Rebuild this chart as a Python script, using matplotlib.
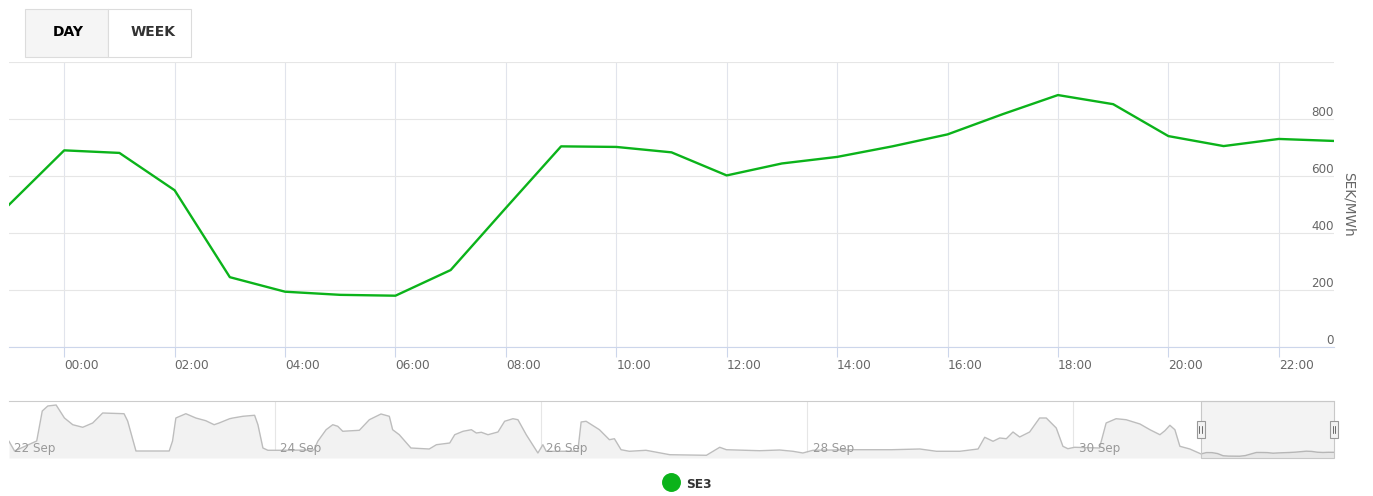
import matplotlib
matplotlib.use("Agg")
from matplotlib import pyplot as plt
from matplotlib.patches import Rectangle
from matplotlib.lines import Line2D
from matplotlib.transforms import offset_copy

plt.rcParams['font.family'] = ['DejaVu Sans']

# SE3 day-ahead price, 30 Sep 23:00 .. 1 Oct 23:00 (hour offset from midnight)
hours = list(range(-1, 24))
prices = [499, 690, 681, 550, 245, 194, 183, 180, 270, 488, 704, 702, 683,
          602, 644, 667, 704, 746, 817, 884, 852, 740, 705, 730, 723]

# navigator history, hours since 22 Sep 00:00 (the last day is appended below)
nav_hours = [0, 1, 5, 6, 7, 8.5, 10, 11.5, 13.3, 15.1, 16.9, 20.75, 21.4, 22.9,
             28.9, 29.5, 30.1, 31.9, 33.7, 35.5, 37.0, 37.9, 39.8, 40.4, 42.2,
             44.3, 44.9, 45.8, 46.7, 48.8, 55.0, 55.7, 57.2, 58.4, 59.3, 60.2,
             63.2, 65.0, 67.1, 68.6, 69.2, 70.4, 72.5, 75.8, 77.1, 79.5, 80.4,
             81.9, 83.4, 84.3, 85.2, 86.4, 88.2, 89.4, 90.9, 91.8, 93.3, 95.4,
             96.3, 96.9, 102.6, 103.2, 104.1, 106.5, 108.3, 109.2, 110.4,
             111.9, 114.9, 119.2, 125.8, 128.2, 129.4, 135.4, 139.0, 141.4,
             143.2, 145.0, 152.2, 159.2, 164.3, 167.3, 171.5, 174.8, 176.0,
             177.5, 178.7, 179.9, 181.1, 182.3, 184.1, 185.9, 187.1, 188.9,
             190.1, 191.0, 192.2, 196.7, 197.9, 199.7, 201.5, 204.0, 205.8,
             207.6, 208.5, 209.4, 210.3, 211.2, 213.0]
nav_prices = [2270, 910, 2310, 6510, 7210, 7350, 5530, 4590, 4230, 4830, 6230,
              6130, 5110, 910, 910, 2310, 5530, 6130, 5530, 5150, 4590, 4830,
              5430, 5530, 5770, 5910, 4590, 1330, 1010, 1010, 1050, 2270, 3890,
              4590, 4370, 3670, 3810, 5290, 6090, 5770, 3890, 3190, 1330, 1190,
              1790, 2030, 3190, 3670, 3890, 3430, 3530, 3190, 3570, 5070, 5430,
              5290, 3190, 630, 1790, 870, 870, 4970, 5070, 3890, 2490, 2630,
              1090, 870, 1010, 390, 310, 1430, 1090, 950, 1050, 870, 630, 1010,
              1090, 1090, 1190, 870, 870, 1190, 2830, 2270, 2730, 2630, 3570,
              2870, 3570, 5530, 5530, 4130, 1570, 1230, 1430, 1330, 4830, 5430,
              5290, 4690, 3890, 3190, 3750, 4510, 3890, 1570, 1190]
nav_day_labels = ['22 Sep', '24 Sep', '26 Sep', '28 Sep', '30 Sep']
day_start = 216

GREEN = '#0bb31a'
W, H = 1373, 496


def box(l, t, r, b):
    return [l / W, 1 - b / H, (r - l) / W, (b - t) / H]


fig = plt.figure(figsize=(W / 100, H / 100), dpi=100)

# ---- main chart ----
ax = fig.add_axes(box(9, 62, 1334, 347))
ax.plot(hours, prices, color=GREEN, lw=1.7, solid_joinstyle='round', zorder=3)
ax.set_xlim(-1, 23)
ax.set_ylim(0, 1000)
for s in ['top', 'right', 'left']:
    ax.spines[s].set_visible(False)
ax.spines['bottom'].set_color('#ccd6eb')
ax.spines['bottom'].set_linewidth(0.8)
ax.set_axisbelow(True)

ax.set_yticks(range(0, 1001, 200))
ax.yaxis.grid(True, color='#e6e6e6', lw=0.8)
ax.tick_params(axis='y', length=0, labelleft=False)

ax.set_xticks(range(0, 23, 2))
ax.set_xticklabels([f"{h:02d}:00" for h in range(0, 23, 2)])
ax.xaxis.grid(True, color='#e1e4ec', lw=0.8)
ax.tick_params(axis='x', length=7.2, width=0.8, color='#ccd6eb', pad=1.5,
               labelsize=8.7, labelcolor='#666666')
for lab in ax.get_xticklabels():
    lab.set_horizontalalignment('left')

ytrans = offset_copy(ax.get_yaxis_transform(), fig=fig, y=4.8, units='points')
for v in range(0, 801, 200):
    ax.text(1.0, v, str(v), transform=ytrans, ha='right', va='center',
            fontsize=8.6, color='#666666')

fig.text(1349 / W, 1 - 204.5 / H, 'SEK/MWh', rotation=270, ha='center',
         va='center', fontsize=9.8, color='#666666')

# ---- navigator ----
nav = fig.add_axes(box(9, 401, 1334, 458))
all_h = nav_hours + [day_start + h for h in hours]
all_p = nav_prices + prices
nav.fill_between(all_h, all_p, -70, color='#f2f2f2', lw=0, zorder=1)
nav.plot(all_h, all_p, color='#bdbdbd', lw=1.0, zorder=2)
nav.set_xlim(0, 239)
nav.set_ylim(-70, 7910)
nav.set_xticks([])
nav.set_yticks([])
for s in ['bottom', 'right', 'left']:
    nav.spines[s].set_visible(False)
nav.spines['top'].set_color('#cccccc')
nav.spines['top'].set_linewidth(0.8)

ltrans = offset_copy(nav.get_xaxis_transform(), fig=fig, x=3.8, units='points')
for i, lab in enumerate(nav_day_labels):
    d = 48 * i
    if d > 0:
        nav.axvline(d, color='#e6e6e6', lw=0.8, zorder=0)
    nav.text(d, 0.16, lab, transform=ltrans, ha='left', va='center',
             fontsize=8.6, color='#999999', zorder=3)

sel_lo, sel_hi = day_start + hours[0], day_start + hours[-1]
xt = nav.get_xaxis_transform()
nav.add_patch(Rectangle((sel_lo, 0), sel_hi - sel_lo, 1, transform=xt,
                        facecolor=(0.4, 0.4, 0.4, 0.08), edgecolor='#c8c8c8',
                        lw=0.8, clip_on=False, zorder=4))
for hx in (sel_lo, sel_hi):
    nav.add_patch(Rectangle((hx - 0.78, 0.35), 1.56, 0.30, transform=xt,
                            facecolor='#f2f2f2', edgecolor='#999999', lw=0.8,
                            clip_on=False, zorder=5))
    for dx in (-0.27, 0.27):
        nav.add_line(Line2D([hx + dx, hx + dx], [0.43, 0.57], transform=xt,
                            color='#333333', lw=0.5, clip_on=False, zorder=6))

# ---- range selector buttons ----
fig.add_artist(Rectangle((24.5 / W, 1 - 57.3 / H), 83 / W, 48 / H,
                         transform=fig.transFigure, facecolor='#f5f5f5',
                         edgecolor='#dcdcdc', lw=0.8))
fig.add_artist(Rectangle((108.3 / W, 1 - 57.3 / H), 82.4 / W, 48 / H,
                         transform=fig.transFigure, facecolor='white',
                         edgecolor='#dcdcdc', lw=0.8))
fig.text(68 / W, 1 - 32 / H, 'DAY', ha='center', va='center', fontsize=10,
         fontweight='bold', color='#000000')
fig.text(153 / W, 1 - 32 / H, 'WEEK', ha='center', va='center', fontsize=10,
         fontweight='bold', color='#333333')

# ---- legend ----
fig.add_artist(Line2D([671 / W], [1 - 481.5 / H], marker='o', markersize=12.6,
                      color=GREEN, linestyle='none', transform=fig.transFigure))
fig.text(686 / W, 1 - 484.5 / H, 'SE3', ha='left', va='center', fontsize=8.8,
         fontweight='bold', color='#333333')

plt.savefig("out.png", dpi=100)
